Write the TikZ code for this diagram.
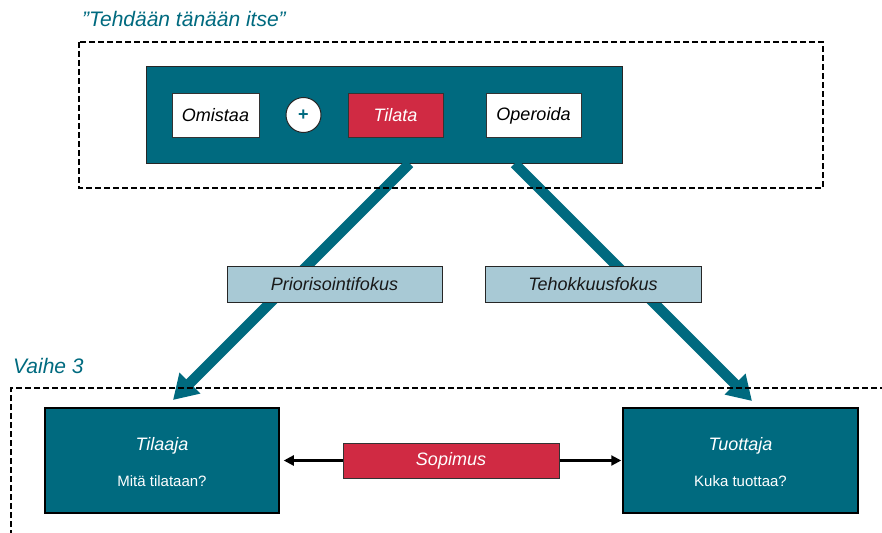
\documentclass[tikz,border=0pt]{standalone}
\usepackage{fontspec}
\setmainfont{Liberation Sans}
\usetikzlibrary{arrows.meta,calc}

\definecolor{petrol}{RGB}{0,106,127}
\definecolor{signalred}{RGB}{208,42,67}
\definecolor{paleblue}{RGB}{168,201,213}

\tikzset{
  frame/.style={draw=black, line width=2.3pt, dash pattern=on 6pt off 3pt},
  panel/.style={draw=black!85, line width=1pt, fill=petrol},
  whitebox/.style={draw=black!80, line width=1pt, fill=white, minimum width=#1, minimum height=43pt,
    inner sep=0pt, font=\fontsize{18}{20}\selectfont\itshape, text=black},
  redbox/.style={draw=black!80, line width=1pt, fill=signalred, minimum width=#1,
    inner sep=0pt, font=\fontsize{18}{20}\selectfont\itshape, text=white},
  focusbox/.style={draw=black!85, line width=1pt, fill=paleblue, minimum width=#1, minimum height=36pt,
    inner sep=0pt, font=\fontsize{18}{20}\selectfont\itshape, text=black!90},
  rolebox/.style={draw=black, line width=1.5pt, fill=petrol, minimum width=#1, minimum height=105pt, inner sep=0pt},
  bigarrow/.style={draw=petrol, line width=10.5pt, -{Triangle[length=24pt, width=28pt]}},
  thinarrow/.style={draw=black, line width=2.2pt, -{Triangle[length=10pt, width=10pt]}},
  heading/.style={font=\fontsize{21}{24}\selectfont\itshape, text=petrol, inner sep=0pt},
}

\begin{document}
\begin{tikzpicture}[x=1pt, y=-1pt]
  \useasboundingbox (0,0) rectangle (882,532);
  \clip (0,0) rectangle (882,532);

  % headings
  \node[heading, anchor=base west] (title) at (82,27) {”Tehdään tänään itse”};
  \node[heading, anchor=base west] (phase) at (13,373) {Vaihe 3};

  % upper group: today's way of doing things
  \node[panel, minimum width=476pt, minimum height=96pt] (today) at (384,115) {};
  \node[whitebox=87pt] (own) at (215.5,115.5) {Omistaa};
  \node[circle, draw=black!85, line width=1pt, fill=white, minimum size=35pt, inner sep=0pt,
        font=\fontsize{18}{20}\selectfont\bfseries, text=petrol] (plus) at (303.5,115) {+};
  \node[redbox=95pt, minimum height=43pt] (order) at (395.5,115.5) {Tilata};
  \node[whitebox=95pt] (operate) at (533.5,115.5) {Operoida};

  % lower role boxes
  \node[rolebox=234pt] (buyer) at (162,460.5) {};
  \node[rolebox=235pt] (producer) at (740.5,460.5) {};
  \node[anchor=base, text=white, font=\fontsize{18}{20}\selectfont\itshape]
    (buyertitle) at ($(buyer.north)+(0,43.5)$) {Tilaaja};
  \node[anchor=base, text=white, font=\fontsize{15}{18}\selectfont]
    (buyerq) at ($(buyer.north)+(0,79.5)$) {Mitä tilataan?};
  \node[anchor=base, text=white, font=\fontsize{18}{20}\selectfont\itshape]
    (producertitle) at ($(producer.north)+(0,43.5)$) {Tuottaja};
  \node[anchor=base, text=white, font=\fontsize{15}{18}\selectfont]
    (producerq) at ($(producer.north)+(0,79.5)$) {Kuka tuottaa?};

  % the two focus arrows
  \coordinate (leftstart) at ($(today.south west)+(264,0)$);
  \coordinate (rightstart) at ($(today.south west)+(369,0)$);
  \coordinate (lefttip) at (173,400);
  \coordinate (righttip) at (752,401);
  \draw[bigarrow] (leftstart) -- (lefttip);
  \draw[bigarrow] (rightstart) -- (righttip);

  \node[focusbox=215pt] (prio) at (334.5,284) {Priorisointifokus};
  \node[focusbox=216pt] (eff) at (593,284) {Tehokkuusfokus};

  % contract between buyer and producer
  \node[redbox=216pt, minimum height=35pt] (contract) at (451,460.5) {Sopimus};
  \draw[thinarrow, shorten >=4pt] (contract.west) -- (buyer.east);
  \draw[thinarrow, shorten >=1pt] (contract.east) -- (producer.west);

  % dashed group frames
  \draw[frame] (79,42) rectangle (823,188);
  \draw[frame] (11,545) -- (11,388) -- (895,388);
\end{tikzpicture}
\end{document}
